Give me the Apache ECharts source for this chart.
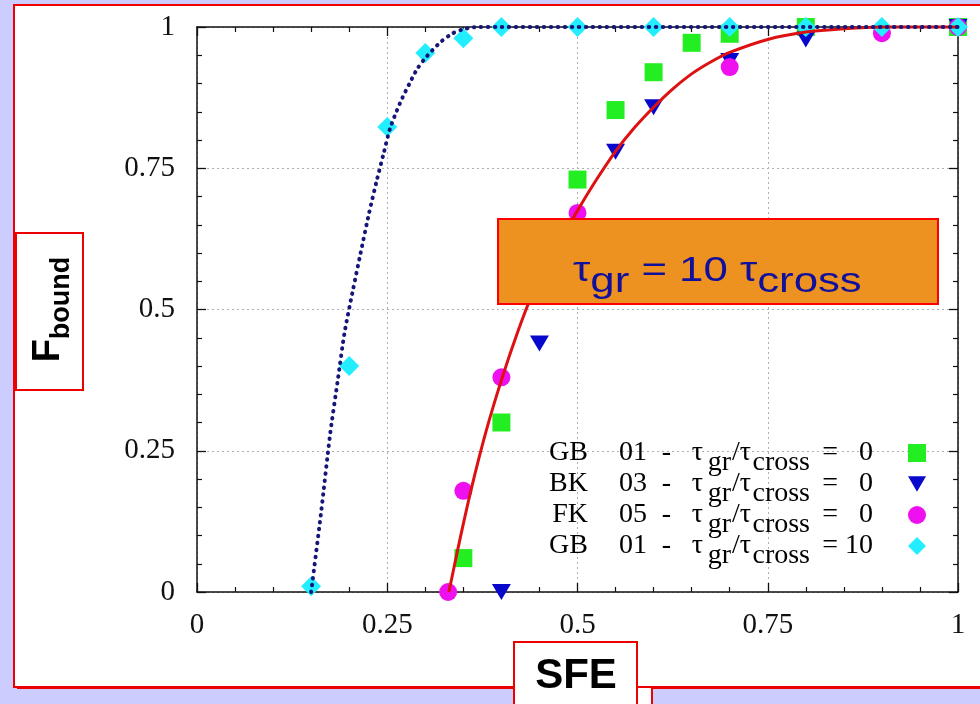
<!DOCTYPE html>
<html><head><meta charset="utf-8">
<script src="https://cdn.jsdelivr.net/npm/echarts@6/dist/echarts.min.js"></script>
<style>html,body{margin:0;padding:0;background:#CCCCFF}#c{width:980px;height:704px}</style>
</head><body><div id="c"></div>
<script>
// ---- data ----
const xTickLabels = ['0', '0.25', '0.5', '0.75', '1'];
const yTickLabels = ['0', '0.25', '0.5', '0.75', '1'];

const sfeGB01 = [0.35, 0.40, 0.50, 0.55, 0.60, 0.65, 0.70, 0.80, 1.00];
const fGB01   = [0.06, 0.30, 0.73, 0.853, 0.92, 0.972, 0.988, 1.0, 1.0];

const sfeBK03 = [0.40, 0.45, 0.55, 0.60, 0.70, 0.80, 1.00];
const fBK03   = [0.0, 0.44, 0.779, 0.858, 0.94, 0.978, 1.0];

const sfeFK05 = [0.33, 0.35, 0.40, 0.50, 0.70, 0.90, 1.00];
const fFK05   = [0.0, 0.179, 0.38, 0.671, 0.929, 0.989, 1.0];

const sfeGB01t10 = [0.15, 0.20, 0.25, 0.30, 0.35, 0.40, 0.50, 0.60, 0.70, 0.80, 0.90, 1.00];
const fGB01t10   = [0.01, 0.40, 0.823, 0.954, 0.98, 1, 1, 1, 1, 1, 1, 1];

// fitted curves
const fitRedX = [0.331, 0.345, 0.36, 0.38, 0.40, 0.42, 0.44, 0.47, 0.50, 0.525, 0.55, 0.575, 0.60, 0.625, 0.65, 0.675, 0.70, 0.75, 0.80, 0.85, 0.90, 1.00];
const fitRedY = [0.0, 0.09, 0.18, 0.285, 0.375, 0.455, 0.525, 0.605, 0.675, 0.73, 0.78, 0.822, 0.858, 0.89, 0.917, 0.938, 0.955, 0.978, 0.991, 0.997, 1.0, 1.0];

const fitBlueX = [0.15, 0.163, 0.175, 0.185, 0.194, 0.205, 0.215, 0.226, 0.2365, 0.245, 0.2536, 0.262, 0.27, 0.28, 0.289, 0.30, 0.319, 0.335, 0.35, 0.37, 0.40, 1.00];
const fitBlueY = [0.0, 0.14, 0.28, 0.375, 0.46, 0.535, 0.60, 0.67, 0.73, 0.775, 0.82, 0.85, 0.875, 0.902, 0.925, 0.945, 0.972, 0.988, 0.996, 1.0, 1.0, 1.0];

const legendCodes  = ['GB', 'BK', 'FK', 'GB'];
const legendNums   = ['01', '03', '05', '01'];
const legendRatios = ['0', '0', '0', '10'];
const seriesNames  = ['GB01 t0', 'BK03 t0', 'FK05 t0', 'GB01 t10'];

const zip = (a, b) => a.map((v, i) => [v, b[i]]);
const tickFmtX = v => { const i = Math.round(v / 0.25); return Math.abs(v - i * 0.25) < 1e-6 ? xTickLabels[i] : ''; };
const tickFmtY = v => { const i = Math.round(v / 0.25); return Math.abs(v - i * 0.25) < 1e-6 ? yTickLabels[i] : ''; };

const serif = 'Liberation Serif';
const sans = 'Liberation Sans';

const axisCommon = {
  type: 'value', min: 0, max: 1, interval: 0.25,
  axisLine: { show: true, onZero: false, lineStyle: { color: '#111', width: 1.5 } },
  axisTick: { show: true, inside: true, length: 9, lineStyle: { color: '#111', width: 1.3 } },
  minorTick: { show: true, splitNumber: 5, length: 5, lineStyle: { color: '#111', width: 1.2 } },
  minorSplitLine: { show: false }
};

const mainTok = { fontFamily: serif, fontSize: 28, color: '#000', lineHeight: 24, height: 24, verticalAlign: 'middle' };
const subTok = Object.assign({}, mainTok, { verticalAlign: 'bottom' });
const legendRich = {
  n: Object.assign({}, mainTok, { width: 41, align: 'right' }),
  d: Object.assign({}, mainTok, { width: 59, align: 'right' }),
  h: Object.assign({}, mainTok, { width: 24, align: 'right' }),
  t: Object.assign({}, mainTok, { width: 32, align: 'right' }),
  s1: Object.assign({}, subTok, { width: 28, align: 'right' }),
  t2: Object.assign({}, mainTok, { width: 20, align: 'right' }),
  s2: Object.assign({}, subTok, { width: 59, align: 'right' }),
  e: Object.assign({}, mainTok, { width: 28, align: 'right' }),
  v: Object.assign({}, mainTok, { width: 35, align: 'right' }),
  g: { fontSize: 10, width: 30, lineHeight: 44, height: 44 }
};

const boxMain = { fontFamily: sans, fontSize: 35, fill: '#10109c', lineHeight: 30, height: 30, verticalAlign: 'middle' };
const boxSub = Object.assign({}, boxMain, { verticalAlign: 'bottom' });

const fMain = { fontFamily: sans, fontWeight: 'bold', fontSize: 38, fill: '#000', lineHeight: 30, height: 30, verticalAlign: 'middle' };
const fSub = { fontFamily: sans, fontWeight: 'bold', fontSize: 27, fill: '#000', lineHeight: 24, height: 24, verticalAlign: 'bottom' };

const chart = echarts.init(document.getElementById('c'), null, { renderer: 'canvas' });
chart.setOption({
  backgroundColor: '#CCCCFF',
  animation: false,
  grid: { left: 197, right: 22, top: 27, bottom: 112, show: false },
  xAxis: [
    Object.assign({}, axisCommon, {
      position: 'bottom',
      axisLabel: { show: true, fontFamily: serif, fontSize: 29, color: '#111', margin: 19, formatter: tickFmtX },
      splitLine: { show: true, lineStyle: { type: [2, 3], color: '#b0b0b0', width: 1 } }
    }),
    Object.assign({}, axisCommon, {
      position: 'top', axisLabel: { show: false }, splitLine: { show: false }
    })
  ],
  yAxis: [
    Object.assign({}, axisCommon, {
      position: 'left',
      axisLabel: { show: true, fontFamily: serif, fontSize: 29, color: '#111', margin: 22, formatter: tickFmtY },
      splitLine: { show: true, lineStyle: { type: [2, 3], color: '#b0b0b0', width: 1 } }
    }),
    Object.assign({}, axisCommon, {
      position: 'right', axisLabel: { show: false }, splitLine: { show: false }
    })
  ],
  legend: {
    data: [
      { name: seriesNames[0] },
      { name: seriesNames[1], icon: 'path://M0,0L20,0L10,17Z' },
      { name: seriesNames[2] },
      { name: seriesNames[3] }
    ],
    orient: 'vertical',
    align: 'right',
    left: 547,
    top: 431,
    padding: 0,
    itemGap: -15,
    itemWidth: 18,
    itemHeight: 18,
    selectedMode: false,
    formatter: name => {
      const i = seriesNames.indexOf(name);
      return '{n|' + legendCodes[i] + '}{d|' + legendNums[i] + '}{h|-}{t|τ}{s1|gr}{t2|/τ}{s2|cross}{e|=}{v|' + legendRatios[i] + '}{g| }';
    },
    textStyle: { rich: legendRich }
  },
  series: [
    { name: seriesNames[0], type: 'scatter', data: zip(sfeGB01, fGB01), symbol: 'rect', symbolSize: 18,
      itemStyle: { color: '#22ee22', opacity: 1 }, clip: false, z: 3 },
    { name: seriesNames[1], type: 'scatter', data: zip(sfeBK03, fBK03), symbol: 'triangle', symbolSize: [19, 16], symbolRotate: 180,
      itemStyle: { color: '#0808cc', opacity: 1 }, clip: false, z: 3 },
    { name: seriesNames[2], type: 'scatter', data: zip(sfeFK05, fFK05), symbol: 'circle', symbolSize: 18,
      itemStyle: { color: '#ee10ee', opacity: 1 }, clip: false, z: 3 },
    { name: seriesNames[3], type: 'scatter', data: zip(sfeGB01t10, fGB01t10), symbol: 'diamond', symbolSize: 20,
      itemStyle: { color: '#22eeff', opacity: 1 }, clip: false, z: 3 },
    { name: 'fit0', type: 'line', data: zip(fitRedX, fitRedY), showSymbol: false, symbol: 'none', smooth: 0.25,
      lineStyle: { color: '#dd1111', width: 3 }, clip: false, z: 4 },
    { name: 'fit10', type: 'line', data: zip(fitBlueX, fitBlueY), showSymbol: false, symbol: 'none', smooth: 0.25,
      lineStyle: { color: '#15157a', width: 4, type: [0.5, 6.5], cap: 'round' }, clip: false, z: 4 }
  ],
  graphic: [
    // panel shadow + panel
    { type: 'rect', z: -20, silent: true, shape: { x: 17, y: 8, width: 990, height: 681 }, style: { fill: '#ee0000' } },
    { type: 'rect', z: -19, silent: true, shape: { x: 14, y: 5, width: 990, height: 682 }, style: { fill: '#ffffff', stroke: '#ee0000', lineWidth: 2 } },
    // orange box
    { type: 'rect', z: 100, shape: { x: 498, y: 219, width: 440, height: 85 }, style: { fill: '#ED9120', stroke: '#ff0000', lineWidth: 2 } },
    { type: 'text', z: 101, x: 718, y: 271, scaleX: 1.25, style: {
        text: '{m|τ}{s|gr}{m| = 10 τ}{s|cross}{z| }', align: 'center', verticalAlign: 'middle', fill: '#10109c',
        rich: { m: boxMain, s: boxSub, z: { fontSize: 10, width: 1, lineHeight: 52, height: 52 } } } },
    // F_bound box
    { type: 'rect', z: 100, shape: { x: 16, y: 233, width: 67, height: 157 }, style: { fill: '#ffffff', stroke: '#ee0000', lineWidth: 2 } },
    { type: 'text', z: 101, x: 49, y: 309, rotation: Math.PI / 2, style: {
        text: '{m|F}{s|bound}{z| }', align: 'center', verticalAlign: 'middle', fill: '#000',
        rich: { m: fMain, s: fSub, z: { fontSize: 10, width: 1, lineHeight: 50, height: 50 } } } },
    // SFE box (with the box underneath)
    { type: 'rect', z: 99, shape: { x: 530, y: 687, width: 122, height: 40 }, style: { fill: '#ffffff', stroke: '#ee0000', lineWidth: 2 } },
    { type: 'rect', z: 100, shape: { x: 514, y: 642, width: 123, height: 80 }, style: { fill: '#ffffff', stroke: '#ee0000', lineWidth: 2 } },
    { type: 'text', z: 101, x: 576, y: 676, style: { text: 'SFE', align: 'center', verticalAlign: 'middle',
        font: 'bold 42px "Liberation Sans"', fill: '#000' } }
  ]
});
</script>
</body></html>
